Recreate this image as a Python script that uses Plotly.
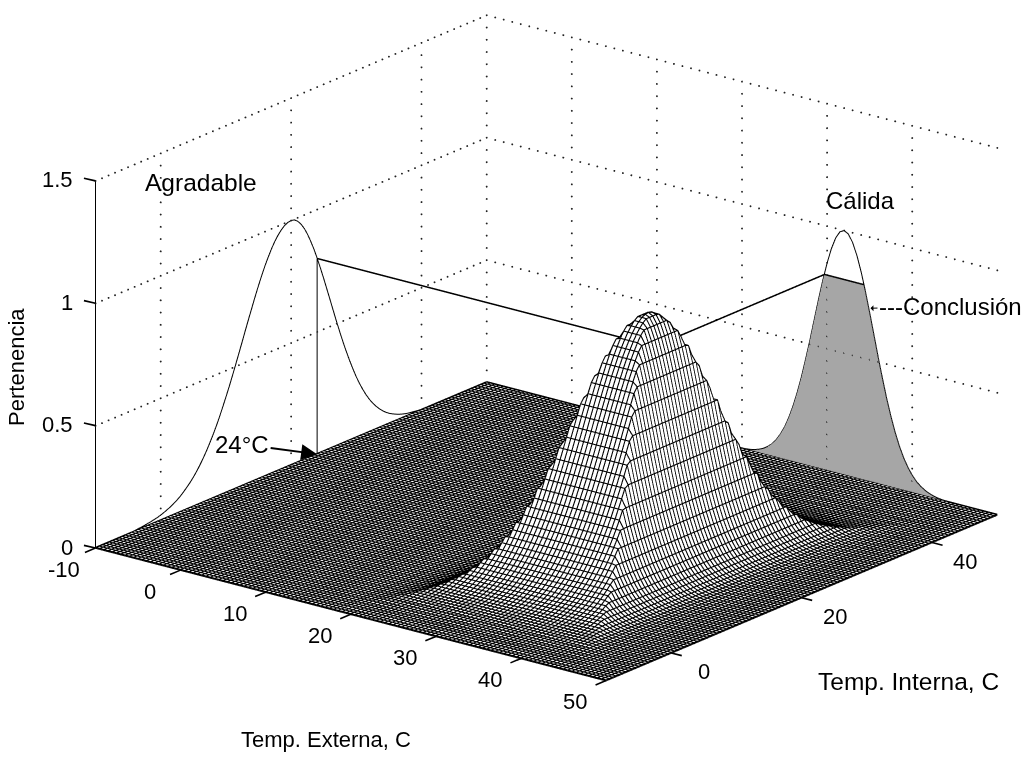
import numpy as np
import plotly.graph_objects as go

temp_externa = [-10 + 0.5 * i for i in range(121)]
temp_interna = [-10 + 0.5 * i for i in range(121)]

agradable = [0, 0, 0, .001, .001, .001, .001, .001, .002, .002, .003, .004, .004, .006, .007, .009,
             .011, .013, .016, .019, .023, .028, .034, .040, .048, .056, .066, .078, .091, .105, .121,
             .139, .159, .181, .205, .231, .259, .289, .321, .356, .392, .429, .468, .508, .549, .590,
             .632, .673, .713, .753, .791, .827, .861, .891, .919, .943, .963, .979, .991, .998, 1,
             .997, .986, .969, .946, .917, .882, .844, .801, .755, .707, .657, .607, .556, .506, .458,
             .411, .367, .325, .286, .249, .216, .186, .159, .135, .114, .096, .080, .066, .054, .044,
             .036, .029, .023, .018, .014, .011, .009, .007, .005, .004, .003, .002, .002, .001, .001,
             .001, 0, 0, 0, 0, 0, 0, 0, 0, 0, 0, 0, 0, 0, 0]
calida = [0] * 57 + [.001, .001, .002, .003, .005, .007, .011, .017, .025, .037, .052, .073, .101,
                     .135, .178, .230, .291, .360, .438, .520, .607, .693, .775, .849, .912, .960, .990,
                     1, .990, .960, .912, .849, .775, .693, .607, .520, .438, .360, .291, .230, .178,
                     .135, .101, .073, .052, .037, .025, .017, .011, .007, .005, .003, .002, .001, .001,
                     0, 0, 0, 0, 0, 0, 0, 0, 0]

x_ticks = [-10, 0, 10, 20, 30, 40, 50]
y_ticks = [0, 20, 40]
z_ticks = [0, 0.5, 1, 1.5]
z_labels = ["0", "0.5", "1", "1.5"]
entrada = 24
nivel = 0.8
corte_izq, corte_der = 29.7, 34.3

FONT = "Liberation Sans, Arial, sans-serif"
xlo, xhi, ylo, yhi, ztop = -10, 50, -10, 50, 1.5

fig = go.Figure()

# surface
Z = np.minimum.outer(np.array(calida), np.array(agradable)).T  # rows = interna, cols = externa
flat = dict(ambient=1, diffuse=0, specular=0, roughness=1, fresnel=0)
fig.add_trace(go.Surface(
    x=temp_externa, y=temp_interna, z=Z, surfacecolor=np.zeros_like(Z),
    colorscale=[[0, "#ffffff"], [1, "#ffffff"]], showscale=False, hoverinfo="skip",
    lighting=flat,
    contours=dict(x=dict(show=False, highlight=False), y=dict(show=False, highlight=False),
                  z=dict(show=False, highlight=False)),
))

# the surface's mesh lines, drawn from the same values
mx, my, mz = [], [], []
lift = 0.004
for r, yv in enumerate(temp_interna):
    mx += temp_externa + [None]
    my += [yv] * len(temp_externa) + [None]
    mz += list(Z[r] + lift) + [None]
for c, xv in enumerate(temp_externa):
    mx += [xv] * len(temp_interna) + [None]
    my += temp_interna + [None]
    mz += list(Z[:, c] + lift) + [None]
fig.add_trace(go.Scatter3d(x=mx, y=my, z=mz, mode="lines", showlegend=False, hoverinfo="skip",
                           line=dict(color="black", width=2.2)))

# shaded conclusion on the back wall
fx = sorted(temp_externa + [corte_izq, corte_der])
fz = np.minimum(np.interp(fx, temp_externa, calida), nivel)
n = len(fx)
fig.add_trace(go.Mesh3d(
    x=fx + fx, y=[yhi] * (2 * n), z=[0] * n + list(fz), color="#a6a6a6", lighting=flat,
    flatshading=True, hoverinfo="skip",
    i=[a for a in range(n - 1) for _ in (0, 1)],
    j=[b for a in range(n - 1) for b in (a + 1, a + 1 + n)],
    k=[c for a in range(n - 1) for c in (a + 1 + n, a + n)],
))


def line(x, y, z, width=2):
    fig.add_trace(go.Scatter3d(x=x, y=y, z=z, mode="lines", showlegend=False, hoverinfo="skip",
                               line=dict(color="black", width=width)))


def dots(x, y, z):
    fig.add_trace(go.Scatter3d(x=x, y=y, z=z, mode="markers", showlegend=False, hoverinfo="skip",
                               marker=dict(color="#222222", size=1.1, line=dict(width=0))))


# dotted grid on walls
alongx = np.arange(xlo, xhi + 1, 1.0)
alongy = np.arange(ylo, yhi + 1, 1.0)
alongz = np.arange(0, ztop + 0.01, 0.05)
for t in x_ticks[:-1]:
    dots([t] * len(alongz), [yhi] * len(alongz), alongz)
for t in y_ticks + [yhi]:
    dots([xlo] * len(alongz), [t] * len(alongz), alongz)
for t in z_ticks[1:]:
    dots([xlo] * len(alongy), alongy, [t] * len(alongy))
    dots(alongx, [yhi] * len(alongx), [t] * len(alongx))

# axis lines
line([xlo, xhi], [ylo, ylo], [0, 0], 2)
line([xhi, xhi], [ylo, yhi], [0, 0], 2)
line([xlo, xlo], [ylo, ylo], [0, ztop], 2)

# membership curves on the walls
line([xlo] * len(temp_interna), temp_interna, agradable, 2)
line(temp_externa, [yhi] * len(temp_externa), calida, 2)

# 24 C input line and clipping line
line([xlo, xlo], [entrada, entrada], [0, nivel], 2)
line([xlo, corte_izq, corte_izq, corte_der], [entrada, entrada, yhi, yhi], [nivel] * 4, 3)


def note(text, x, y, z, dx=0, dy=0, angle=0, size=24, **kw):
    args = dict(x=x, y=y, z=z, text=text, showarrow=False, xshift=dx, yshift=-dy, textangle=angle,
                font=dict(family=FONT, size=size, color="black"))
    args.update(kw)
    return args


def tick(x, y, z, ax, ay):
    return dict(x=x, y=y, z=z, text=" ", showarrow=True, ax=ax, ay=ay, arrowhead=0, arrowwidth=1.6,
                arrowcolor="black", standoff=0, font=dict(size=1))


annotations = [
    note("Temp. Externa, C", 20, ylo, 0, -25, 125, size=22),
    note("Temp. Interna, C", xhi, 20, 0, 107, 84, size=24.5),
    note("Pertenencia", xlo, ylo, 0.75, -79, 2, angle=-90, size=22),
    note("Agradable", xlo, 20, 1.5, -90, 84, size=24.5),
    note("Cálida", 30, yhi, 1.25, 33, 36),
    dict(x=xlo, y=entrada, z=0, text="24°C", showarrow=True, ax=-75, ay=-10, arrowhead=2, arrowsize=1.6,
         arrowwidth=2, arrowcolor="black", font=dict(family=FONT, size=24, color="black")),
    dict(x=35.1, y=yhi, z=0.71, text="---Conclusión", showarrow=True, ax=80, ay=-2, arrowhead=1, arrowsize=1,
         arrowwidth=1, arrowcolor="black", font=dict(family=FONT, size=24, color="black")),
]
annotations += [note(str(t), t, ylo, 0, -31, 21, size=22) for t in x_ticks]
annotations += [note(str(t), xhi, t, 0, 33, 19, size=22) for t in y_ticks]
annotations += [note(s, xlo, ylo, t, -20, -1, size=22, xanchor="right") for t, s in zip(z_ticks, z_labels)]
annotations += [tick(t, ylo, 0, -12, 5) for t in x_ticks]
annotations += [tick(xhi, t, 0, 12, 3) for t in y_ticks]
annotations += [tick(xlo, ylo, t, -13, -3) for t in z_ticks]

axis = dict(showgrid=False, showbackground=False, showspikes=False, zeroline=False, showline=False,
            ticks="", showticklabels=False, title=dict(text=""))

fig.update_layout(
    width=1031, height=758, paper_bgcolor="white", showlegend=False, margin=dict(l=0, r=0, t=0, b=0),
    scene=dict(
        domain=dict(x=[0.062, 1], y=[0.077, 1]),
        aspectmode="manual", aspectratio=dict(x=1.859, y=1.819, z=1.12),
        camera=dict(projection=dict(type="orthographic"), up=dict(x=0, y=0, z=1),
                    center=dict(x=0.0205, y=0.016, z=-0.030),
                    eye=dict(x=2.3225, y=-2.924, z=1.283)),
        xaxis=dict(axis, range=[xlo - 0.1, xhi + 0.1], tickvals=x_ticks),
        yaxis=dict(axis, range=[ylo - 0.1, yhi + 0.1], tickvals=y_ticks),
        zaxis=dict(axis, range=[-0.005, ztop + 0.005], tickvals=z_ticks),
        annotations=annotations,
    ),
)

fig.write_html("out.html")
